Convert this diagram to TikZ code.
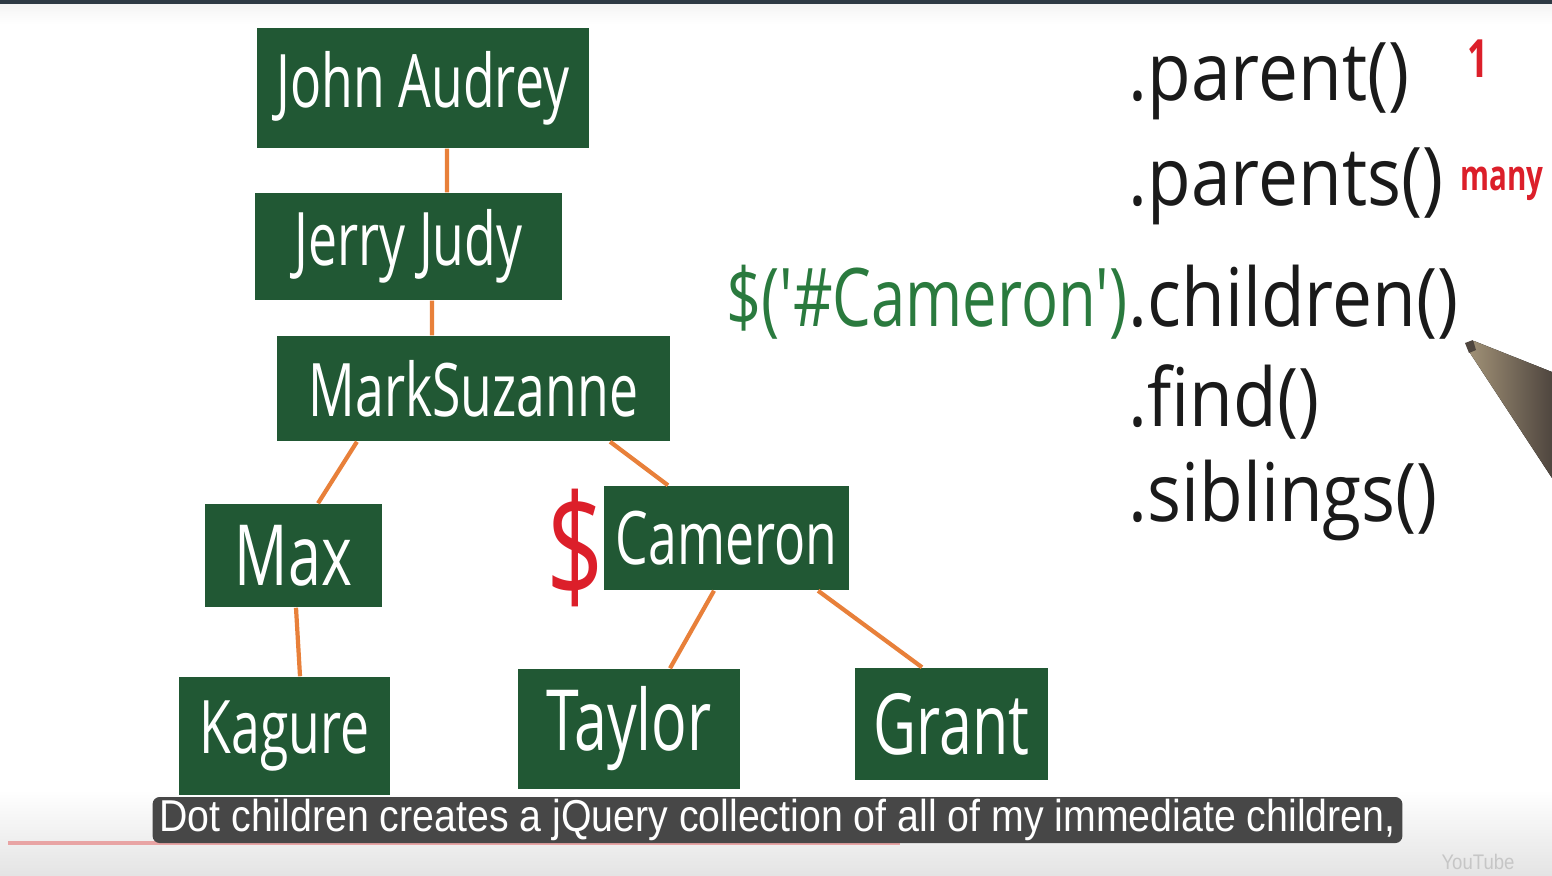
\documentclass[tikz,border=0pt]{standalone}
\usepackage{fontspec}
\setmainfont{Open Sans}
\newfontfamily\hand[FakeStretch=0.7]{Open Sans}
\newfontfamily\codefont[FakeStretch=0.88]{Open Sans}
\newfontfamily\selfont[FakeStretch=0.76]{Open Sans}
\newfontfamily\notefont[FakeStretch=0.7]{Open Sans}
\newfontfamily\subfont[FakeStretch=0.88]{Liberation Sans}
\usetikzlibrary{arrows.meta, positioning, calc}
\definecolor{boxgreen}{HTML}{215834}
\definecolor{twig}{HTML}{E8803A}
\definecolor{ink}{HTML}{1A1A1A}
\definecolor{codegreen}{HTML}{2A7A3E}
\definecolor{marker}{HTML}{DC1F2A}
\definecolor{subbg}{HTML}{474747}
\definecolor{barlt}{HTML}{E4E4E4}
\definecolor{frame}{HTML}{2E3A44}
\definecolor{progress}{HTML}{E8A4A4}
\definecolor{pentan}{HTML}{A39378}
\definecolor{pendk}{HTML}{4F463F}
\tikzset{
  person/.style={fill=boxgreen, text=white, inner sep=0pt,
                 font=\hand\fontsize{21}{25}\selectfont},
  link/.style={draw=twig, line width=1.2pt},
  call/.style={anchor=base west, inner sep=0pt, text=ink,
               font=\codefont\fontsize{23}{28}\selectfont},
  note/.style={inner sep=0pt, text=marker, font=\notefont\bfseries\fontsize{15}{18}\selectfont},
}

\begin{document}
\begin{tikzpicture}[x=0.01cm, y=-0.01cm]
  \useasboundingbox (0,0) rectangle (1552,875);
  \fill[white] (0,0) rectangle (1552,875);
  \shade[top color=barlt!40, bottom color=white] (0,4) rectangle (1552,24);
  \fill[frame] (0,0) rectangle (1552,4);
  \shade[top color=white, bottom color=barlt] (0,790) rectangle (1552,875);

  \node[person, minimum width=3.32cm, minimum height=1.2cm] (ja) at (423,88) {John Audrey};
  \node[person, minimum width=3.07cm, minimum height=1.07cm] (jj) at (408.5,246.5) {Jerry Judy};
  \node[person, minimum width=3.93cm, minimum height=1.05cm] (ms) at (473.5,388.5) {MarkSuzanne};
  \node[person, minimum width=1.77cm, minimum height=1.03cm, font=\hand\fontsize{24}{28}\selectfont]
    (max) at (293.5,555.5) {Max};
  \node[person, minimum width=2.45cm, minimum height=1.04cm] (cam) at (726.5,538) {Cameron};
  \node[person, minimum width=2.11cm, minimum height=1.18cm] (kag) at (284.5,736) {Kagure};
  \node[person, minimum width=2.22cm, minimum height=1.2cm, font=\hand\fontsize{24}{28}\selectfont]
    (tay) at (629,729) {Taylor};
  \node[person, minimum width=1.93cm, minimum height=1.12cm, font=\hand\fontsize{24}{28}\selectfont]
    (gra) at (951.5,724) {Grant};

  \draw[link] ([xshift=0.24cm]ja.south) -- ([xshift=0.385cm]jj.north);
  \draw[link] ([xshift=0.235cm]jj.south) -- ([xshift=-0.415cm]ms.north);
  \draw[link] ([xshift=-1.165cm]ms.south) -- ([xshift=0.245cm]max.north);
  \draw[link] ([xshift=1.365cm]ms.south) -- ([xshift=-0.585cm]cam.north);
  \draw[link] ([xshift=0.025cm]max.south) -- ([xshift=0.155cm]kag.north);
  \draw[link] ([xshift=-0.125cm]cam.south) -- ([xshift=0.41cm]tay.north);
  \draw[link] ([xshift=0.915cm]cam.south) -- ([xshift=-0.295cm]gra.north);

  \node[inner sep=0pt, text=marker, font=\hand\fontsize{41}{44}\selectfont,
        left=-0.02cm of cam, yshift=-0.1cm]
    (dollar) {\$};

  \node[call] (parent) at (1128,100) {.parent()};
  \node[call] (parents) at (1128,205) {.parents()};
  \node[call] (children) at (1128,326) {.children()};
  \node[call] (find) at (1128,426) {.find()};
  \node[call] (siblings) at (1128,521) {.siblings()};
  \node[call, anchor=base east, text=codegreen, font=\selfont\fontsize{23}{28}\selectfont]
    (sel) at (children.base west) {\$('\#Cameron')};
  \node[note] (one) at (1478,59) {1};
  \node[note, font=\notefont\bfseries\fontsize{12}{14}\selectfont, anchor=base west]
    (many) at (1460,190) {many};

  \fill[left color=pentan, right color=pendk]
    (1466,344) -- (1474,341) -- (1552,372) -- (1552,478) -- (1470,353) -- cycle;
  \fill[pendk] (1465,343) -- (1473,340) -- (1476,350) -- (1469,353) -- cycle;

  \draw[progress, line width=1pt] (8,843) -- (900,843);
  \node[fill=subbg, rounded corners=2pt, text=white, inner sep=0pt,
        minimum width=12.49cm, minimum height=0.46cm,
        font=\subfont\fontsize{12.7}{15}\selectfont]
    (caption) at (777.5,820) {Dot children creates a jQuery collection of all of my immediate children,};
  \node[inner sep=0pt, text=barlt!70!gray, font=\subfont\fontsize{6}{7}\selectfont]
    (yt) at (1478,862) {YouTube};
\end{tikzpicture}
\end{document}
